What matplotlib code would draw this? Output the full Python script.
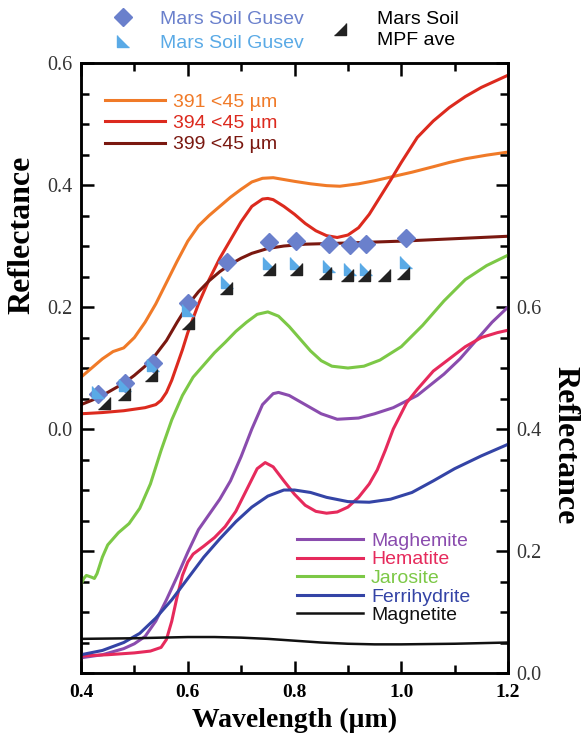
import matplotlib
matplotlib.use("Agg")
import matplotlib.pyplot as plt
from matplotlib.ticker import MultipleLocator, FuncFormatter

# Mars soil lab samples (left axis)
wl_391 = [0.40, 0.42, 0.44, 0.46, 0.48, 0.50, 0.52, 0.54, 0.56, 0.58, 0.60, 0.62, 0.64, 0.66, 0.68, 0.70, 0.72, 0.74, 0.76, 0.78, 0.80, 0.83, 0.86, 0.885, 0.92, 0.95, 0.98, 1.02, 1.06, 1.09, 1.12, 1.16, 1.20]
r_391 = [0.085, 0.10, 0.115, 0.127, 0.133, 0.15, 0.175, 0.205, 0.24, 0.275, 0.308, 0.333, 0.35, 0.365, 0.38, 0.393, 0.405, 0.411, 0.412, 0.409, 0.406, 0.402, 0.399, 0.398, 0.402, 0.407, 0.413, 0.421, 0.43, 0.437, 0.443, 0.449, 0.454]
wl_394 = [0.40, 0.44, 0.48, 0.52, 0.54, 0.55, 0.56, 0.57, 0.58, 0.59, 0.60, 0.62, 0.64, 0.66, 0.68, 0.70, 0.72, 0.74, 0.75, 0.76, 0.78, 0.80, 0.82, 0.84, 0.86, 0.88, 0.90, 0.92, 0.94, 0.96, 0.98, 1.00, 1.03, 1.06, 1.09, 1.12, 1.15, 1.18, 1.20]
r_394 = [0.025, 0.027, 0.030, 0.035, 0.040, 0.047, 0.06, 0.08, 0.105, 0.13, 0.158, 0.205, 0.245, 0.28, 0.31, 0.34, 0.365, 0.377, 0.378, 0.376, 0.365, 0.352, 0.337, 0.325, 0.317, 0.314, 0.318, 0.33, 0.352, 0.38, 0.408, 0.437, 0.478, 0.505, 0.527, 0.545, 0.56, 0.572, 0.58]
wl_399 = [0.40, 0.42, 0.44, 0.46, 0.48, 0.50, 0.52, 0.54, 0.56, 0.58, 0.60, 0.62, 0.64, 0.66, 0.68, 0.70, 0.72, 0.75, 0.78, 0.82, 0.90, 1.00, 1.10, 1.20]
r_399 = [0.04, 0.047, 0.055, 0.065, 0.075, 0.088, 0.103, 0.122, 0.145, 0.175, 0.203, 0.225, 0.243, 0.258, 0.27, 0.28, 0.288, 0.296, 0.300, 0.303, 0.305, 0.308, 0.312, 0.316]

# Mars spacecraft data (left axis)
wl_gusev = [0.432, 0.482, 0.535, 0.601, 0.673, 0.753, 0.803, 0.864, 0.904, 0.934, 1.009]
r_gusev1 = [0.058, 0.076, 0.109, 0.206, 0.273, 0.306, 0.309, 0.304, 0.301, 0.304, 0.313]
r_gusev2 = [0.06, 0.072, 0.105, 0.195, 0.241, 0.272, 0.272, 0.268, 0.263, 0.263, 0.273]
wl_mpf = [0.443, 0.480, 0.531, 0.600, 0.671, 0.752, 0.802, 0.858, 0.898, 0.931, 0.968, 1.003]
r_mpf = [0.043, 0.058, 0.088, 0.173, 0.231, 0.263, 0.263, 0.255, 0.252, 0.252, 0.252, 0.255]

# minerals (right axis)
wl_jar = [0.40, 0.405, 0.41, 0.42, 0.425, 0.43, 0.44, 0.45, 0.47, 0.49, 0.51, 0.53, 0.55, 0.57, 0.59, 0.61, 0.63, 0.65, 0.67, 0.69, 0.71, 0.73, 0.75, 0.77, 0.79, 0.81, 0.83, 0.85, 0.87, 0.90, 0.93, 0.96, 1.00, 1.04, 1.08, 1.12, 1.16, 1.20]
r_jar = [0.145, 0.155, 0.16, 0.157, 0.155, 0.163, 0.19, 0.21, 0.23, 0.245, 0.27, 0.31, 0.365, 0.415, 0.455, 0.485, 0.505, 0.525, 0.542, 0.56, 0.575, 0.588, 0.592, 0.585, 0.568, 0.548, 0.528, 0.512, 0.503, 0.50, 0.503, 0.513, 0.535, 0.57, 0.61, 0.645, 0.668, 0.685]
wl_mgh = [0.40, 0.44, 0.48, 0.50, 0.52, 0.54, 0.56, 0.58, 0.60, 0.62, 0.64, 0.66, 0.68, 0.70, 0.72, 0.74, 0.76, 0.77, 0.79, 0.82, 0.85, 0.88, 0.92, 0.95, 0.985, 1.03, 1.08, 1.11, 1.14, 1.17, 1.20]
r_mgh = [0.025, 0.03, 0.04, 0.048, 0.06, 0.085, 0.12, 0.158, 0.198, 0.235, 0.26, 0.285, 0.315, 0.355, 0.40, 0.44, 0.458, 0.46, 0.455, 0.44, 0.425, 0.416, 0.418, 0.425, 0.435, 0.455, 0.49, 0.515, 0.545, 0.575, 0.60]
wl_hem = [0.40, 0.45, 0.50, 0.53, 0.55, 0.56, 0.57, 0.58, 0.59, 0.60, 0.61, 0.63, 0.65, 0.67, 0.69, 0.71, 0.73, 0.745, 0.76, 0.78, 0.80, 0.82, 0.84, 0.86, 0.88, 0.90, 0.92, 0.94, 0.955, 0.97, 0.985, 1.01, 1.03, 1.06, 1.09, 1.12, 1.15, 1.18, 1.20]
r_hem = [0.028, 0.03, 0.033, 0.036, 0.042, 0.055, 0.085, 0.125, 0.16, 0.182, 0.195, 0.208, 0.222, 0.24, 0.265, 0.30, 0.335, 0.345, 0.338, 0.315, 0.293, 0.275, 0.265, 0.262, 0.264, 0.272, 0.288, 0.31, 0.333, 0.365, 0.40, 0.443, 0.465, 0.495, 0.515, 0.535, 0.55, 0.558, 0.562]
wl_fer = [0.40, 0.44, 0.48, 0.51, 0.54, 0.57, 0.60, 0.63, 0.66, 0.69, 0.72, 0.75, 0.78, 0.80, 0.83, 0.86, 0.90, 0.94, 0.98, 1.02, 1.06, 1.10, 1.15, 1.20]
r_fer = [0.03, 0.037, 0.05, 0.065, 0.09, 0.12, 0.155, 0.19, 0.22, 0.248, 0.272, 0.29, 0.30, 0.30, 0.296, 0.288, 0.281, 0.28, 0.285, 0.296, 0.315, 0.335, 0.356, 0.375]
wl_mag = [0.40, 0.50, 0.60, 0.65, 0.70, 0.75, 0.80, 0.85, 0.90, 0.95, 1.00, 1.10, 1.20]
r_mag = [0.056, 0.057, 0.059, 0.059, 0.058, 0.056, 0.053, 0.05, 0.048, 0.047, 0.047, 0.048, 0.05]

serif = "Liberation Serif"
sans = "Liberation Sans"
tri_ll = [(-1, 1), (-1, -1), (1, -1)]   # light blue marker
tri_lr = [(1, 1), (1, -1), (-1, -1)]    # black marker

fig = plt.figure(figsize=(5.88, 7.37), dpi=100)
ax = fig.add_axes([0.1378, 0.0868, 0.7262, 0.8277])
ax2 = ax.twinx()

lw = 2.2
l391, = ax.plot(wl_391, r_391, color="#f07a28", lw=lw, label="391 <45 µm")
l394, = ax.plot(wl_394, r_394, color="#dc2a1e", lw=lw, label="394 <45 µm")
l399, = ax.plot(wl_399, r_399, color="#7a1810", lw=lw, label="399 <45 µm")

p1, = ax.plot(wl_gusev, r_gusev1, ls="none", marker="D", ms=9, color="#6a80cc", label="Mars Soil Gusev")
p2, = ax.plot(wl_gusev, r_gusev2, ls="none", marker=tri_ll, ms=9, color="#5aaae6", label="Mars Soil Gusev")
p3, = ax.plot(wl_mpf, r_mpf, ls="none", marker=tri_lr, ms=9, color="#222222", label="Mars Soil\nMPF ave")

m1, = ax2.plot(wl_mgh, r_mgh, color="#8a4cae", lw=lw, label="Maghemite")
m2, = ax2.plot(wl_hem, r_hem, color="#e62a5c", lw=lw, label="Hematite")
m3, = ax2.plot(wl_jar, r_jar, color="#7cc846", lw=lw, label="Jarosite")
m4, = ax2.plot(wl_fer, r_fer, color="#3444a6", lw=lw, label="Ferrihydrite")
m5, = ax2.plot(wl_mag, r_mag, color="#111111", lw=1.8, label="Magnetite")

ax.set_xlim(0.4, 1.2)
ax.set_ylim(-0.4, 0.6)
ax2.set_ylim(0, 1.0)

ax.xaxis.set_major_locator(MultipleLocator(0.2))
ax.xaxis.set_minor_locator(MultipleLocator(0.1))
ax.yaxis.set_major_locator(MultipleLocator(0.2))
ax.yaxis.set_minor_locator(MultipleLocator(0.05))
ax2.yaxis.set_major_locator(MultipleLocator(0.2))
ax2.yaxis.set_minor_locator(MultipleLocator(0.05))

ax.yaxis.set_major_formatter(FuncFormatter(lambda v, p: f"{v:.1f}" if v > -0.01 else ""))
ax2.yaxis.set_major_formatter(FuncFormatter(lambda v, p: f"{v:.1f}" if v < 0.61 else ""))
ax.xaxis.set_major_formatter(FuncFormatter(lambda v, p: f"{v:.1f}"))

for a in (ax, ax2):
    a.tick_params(which="both", direction="in", width=1.8, top=True)
    a.tick_params(which="major", length=9)
    a.tick_params(which="minor", length=6)
    for s in a.spines.values():
        s.set_linewidth(1.8)
ax.tick_params(axis="y", right=False, labelsize=14.5, labelcolor="#333333", pad=6)
ax2.tick_params(axis="y", left=False, labelsize=14.5, labelcolor="#333333", pad=6)
ax.tick_params(axis="x", labelsize=14, pad=8)
for t in ax.get_xticklabels():
    t.set_fontfamily(serif)
    t.set_fontweight("bold")
for t in ax.get_yticklabels() + ax2.get_yticklabels():
    t.set_fontfamily(serif)

ax.set_xlabel("Wavelength (µm)", fontfamily=serif, fontweight="bold", fontsize=20, labelpad=5)
ax.set_ylabel("Reflectance", fontfamily=serif, fontweight="bold", fontsize=23)
ax2.set_ylabel("Reflectance", fontfamily=serif, fontweight="bold", fontsize=23, rotation=270)
ax.yaxis.set_label_coords(-0.138, 0.719)
ax2.yaxis.set_label_coords(1.1335, 0.374)
for lab in (ax.yaxis.label, ax2.yaxis.label):
    lab.set_ha("center")
    lab.set_va("center")

leg_kw = dict(frameon=False, prop={"family": sans, "size": 14}, borderpad=0, borderaxespad=0,
              labelcolor="linecolor")
lg1 = ax.legend(handles=[l391, l394, l399], loc="upper left", bbox_to_anchor=(0.056, 0.950),
                handlelength=3.1, handletextpad=0.4, labelspacing=0.18, **leg_kw)
lg2 = ax2.legend(handles=[m1, m2, m3, m4, m5], loc="lower left", bbox_to_anchor=(0.506, 0.080),
                 handlelength=3.4, handletextpad=0.4, labelspacing=0.05, **leg_kw)
lg3 = fig.legend(handles=[p1, p2], loc="upper left", bbox_to_anchor=(0.176, 0.9855), frameon=False,
                 prop={"family": sans, "size": 14}, borderpad=0, borderaxespad=0,
                 handletextpad=0.9, labelspacing=0.3)
for t, c in zip(lg3.get_texts(), ["#6a80cc", "#5aaae6"]):
    t.set_color(c)
lg4 = fig.legend(handles=[p3], loc="upper left", bbox_to_anchor=(0.545, 0.9855), frameon=False,
                 prop={"family": sans, "size": 14}, borderpad=0, borderaxespad=0, handletextpad=0.9)
for t in lg4.get_texts():
    t.set_linespacing(1.3)

fig.savefig("out.png", dpi=100)
